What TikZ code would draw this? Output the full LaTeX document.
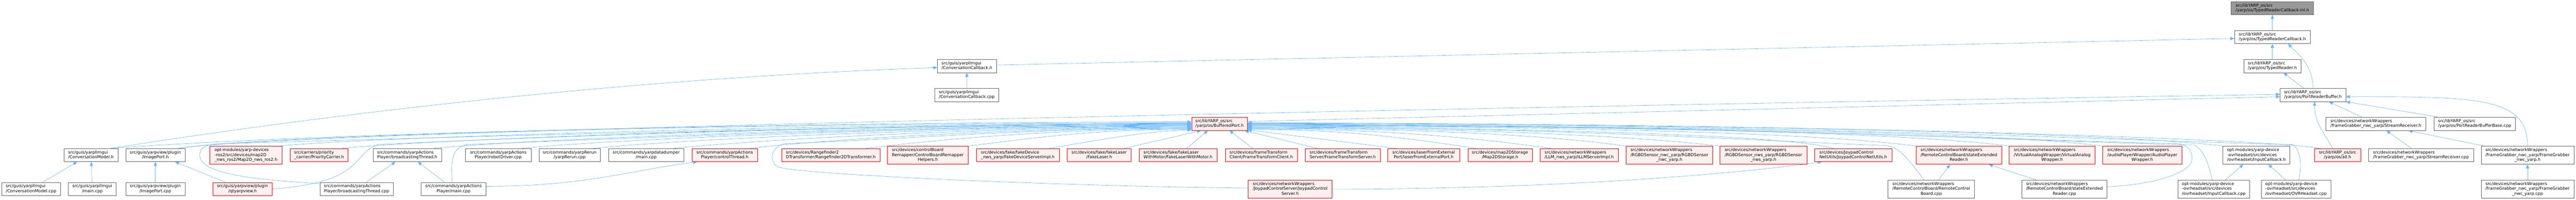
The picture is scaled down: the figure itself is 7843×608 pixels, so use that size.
\documentclass[tikz,border=0pt]{standalone}
\usepackage{fontspec}
\setmainfont{DejaVu Sans}
\usetikzlibrary{arrows.meta}
\pgfdeclarelayer{background}
\pgfsetlayers{background,main}
\definecolor{edgec}{HTML}{63B8FF}
\definecolor{redfill}{HTML}{FFF0F0}
\definecolor{greyb}{HTML}{666666}
\definecolor{rootfill}{HTML}{999999}
\newcommand\lbl[2]{\begin{tabular}{@{}l@{}}#1\\\multicolumn{1}{@{}c@{}}{#2}\end{tabular}}
\newcommand\nodebox[7]{\node[#6, minimum width={(#3-#2)*1pt}, minimum height={(#5-#4)*1pt}] (#1) at ({(#2+#3)/2},{(#4+#5)/2}) {#7};}
\begin{document}
\begin{tikzpicture}[x=1pt,y=-1pt,
  nbase/.style={inner sep=0pt, line width=1pt, font=\fontsize{12.7}{14.8}\selectfont, text=black},
  wn/.style={nbase, draw=greyb, fill=white},
  rn/.style={nbase, draw=red, fill=redfill},
  root/.style={nbase, draw=greyb, fill=rootfill},
  edge/.style={draw=edgec, line width=1pt, -{Triangle[length=12pt,width=10pt]}}]
\useasboundingbox (0,0) rectangle (7843,608);
% ---- upper rows
\nodebox{inl}{6793}{7044}{5}{45}{root}{\lbl{src/libYARP\_os/src}{/yarp/os/TypedReaderCallback-inl.h}}
\nodebox{trc}{6803}{7034}{93}{133}{wn}{\lbl{src/libYARP\_os/src}{/yarp/os/TypedReaderCallback.h}}
\nodebox{ccb}{2854}{3034}{181}{221}{wn}{\lbl{src/guis/yarpllmgui}{/ConversationCallback.h}}
\nodebox{tr}{6832}{7005}{181}{221}{wn}{\lbl{src/libYARP\_os/src}{/yarp/os/TypedReader.h}}
\nodebox{ccc}{2846}{3041}{269}{309}{wn}{\lbl{src/guis/yarpllmgui}{/ConversationCallback.cpp}}
\nodebox{prb}{6942}{7142}{269}{309}{wn}{\lbl{src/libYARP\_os/src}{/yarp/os/PortReaderBuffer.h}}
\nodebox{bp}{3628}{3798}{357}{397}{rn}{\lbl{src/libYARP\_os/src}{/yarp/os/BufferedPort.h}}
\nodebox{sr}{7081}{7386}{357}{397}{wn}{\lbl{src/devices/networkWrappers}{/frameGrabber\_nwc\_yarp/StreamReceiver.h}}
\nodebox{prbb}{7410}{7659}{357}{397}{wn}{\lbl{src/libYARP\_os/src}{/yarp/os/PortReaderBufferBase.cpp}}
% ---- row F
\nodebox{cm}{195}{359}{452}{492}{wn}{\lbl{src/guis/yarpllmgui}{/ConversationModel.h}}
\nodebox{ip}{383}{563}{452}{492}{wn}{\lbl{src/guis/yarpview/plugin}{/ImagePort.h}}
\nodebox{map}{639}{859}{445}{500}{rn}{\lbl{opt-modules/yarp-devices\\-ros2/src/devices/map2D}{\_nws\_ros2/Map2D\_nws\_ros2.h}}
\nodebox{pc}{883}{1060}{452}{492}{rn}{\lbl{src/carriers/priority}{\_carrier/PriorityCarrier.h}}
\nodebox{bth}{1136}{1344}{452}{492}{wn}{\lbl{src/commands/yarpActions}{Player/broadcastingThread.h}}
\nodebox{rd}{1417}{1617}{452}{492}{wn}{\lbl{src/commands/yarpActions}{Player/robotDriver.cpp}}
\nodebox{yr}{1641}{1828}{452}{492}{wn}{\lbl{src/commands/yarpRerun}{/yarpRerun.cpp}}
\nodebox{dd}{1853}{2082}{452}{492}{wn}{\lbl{src/commands/yarpdatadumper}{/main.cpp}}
\nodebox{ct}{2107}{2306}{452}{492}{rn}{\lbl{src/commands/yarpActions}{Player/controlThread.h}}
\nodebox{rf}{2380}{2679}{452}{492}{rn}{\lbl{src/devices/Rangefinder2}{DTransformer/Rangefinder2DTransformer.h}}
\nodebox{cbr}{2702}{2948}{445}{500}{rn}{\lbl{src/devices/controlBoard\\Remapper/ControlBoardRemapper}{Helpers.h}}
\nodebox{fds}{2973}{3225}{452}{492}{rn}{\lbl{src/devices/fake/fakeDevice}{\_nws\_yarp/FakeDeviceServerImpl.h}}
\nodebox{fl}{3249}{3444}{452}{492}{rn}{\lbl{src/devices/fake/fakeLaser}{/FakeLaser.h}}
\nodebox{flm}{3468}{3705}{452}{492}{rn}{\lbl{src/devices/fake/fakeLaser}{WithMotor/FakeLaserWithMotor.h}}
\nodebox{ftc}{3730}{3950}{452}{492}{rn}{\lbl{src/devices/frameTransform}{Client/FrameTransformClient.h}}
\nodebox{fts}{3974}{4202}{452}{492}{rn}{\lbl{src/devices/frameTransform}{Server/FrameTransformServer.h}}
\nodebox{lfe}{4225}{4444}{452}{492}{rn}{\lbl{src/devices/laserFromExternal}{Port/laserFromExternalPort.h}}
\nodebox{m2s}{4469}{4665}{452}{492}{rn}{\lbl{src/devices/map2DStorage}{/Map2DStorage.h}}
\nodebox{illm}{4689}{4927}{452}{492}{rn}{\lbl{src/devices/networkWrappers}{/LLM\_nws\_yarp/ILLMServerImpl.h}}
\nodebox{rgc}{4951}{5214}{445}{500}{rn}{\lbl{src/devices/networkWrappers\\/RGBDSensor\_nwc\_yarp/RGBDSensor}{\_nwc\_yarp.h}}
\nodebox{rgs}{5237}{5501}{445}{500}{rn}{\lbl{src/devices/networkWrappers\\/RGBDSensor\_nws\_yarp/RGBDSensor}{\_nws\_yarp.h}}
\nodebox{jnu}{5525}{5760}{452}{492}{rn}{\lbl{src/devices/JoypadControl}{NetUtils/JoypadControlNetUtils.h}}
\nodebox{ser}{5834}{6094}{445}{500}{rn}{\lbl{src/devices/networkWrappers\\/RemoteControlBoard/stateExtended}{Reader.h}}
\nodebox{vaw}{6117}{6379}{445}{500}{rn}{\lbl{src/devices/networkWrappers\\/VirtualAnalogWrapper/VirtualAnalog}{Wrapper.h}}
\nodebox{apw}{6402}{6643}{445}{500}{rn}{\lbl{src/devices/networkWrappers\\/audioPlayerWrapper/AudioPlayer}{Wrapper.h}}
\nodebox{ich}{6768}{6972}{445}{500}{wn}{\lbl{opt-modules/yarp-device\\-ovrheadset/src/devices}{/ovrheadset/InputCallback.h}}
\nodebox{all}{7047}{7187}{452}{492}{rn}{\lbl{src/libYARP\_os/src}{/yarp/os/all.h}}
\nodebox{srcpp}{7211}{7531}{452}{492}{wn}{\lbl{src/devices/networkWrappers}{/frameGrabber\_nwc\_yarp/StreamReceiver.cpp}}
\nodebox{fgh}{7554}{7837}{445}{500}{wn}{\lbl{src/devices/networkWrappers\\/frameGrabber\_nwc\_yarp/FrameGrabber}{\_nwc\_yarp.h}}
% ---- row G
\nodebox{cmc}{5}{184}{555}{595}{wn}{\lbl{src/guis/yarpllmgui}{/ConversationModel.cpp}}
\nodebox{ym}{208}{354}{555}{595}{wn}{\lbl{src/guis/yarpllmgui}{/main.cpp}}
\nodebox{ipc}{383}{563}{555}{595}{wn}{\lbl{src/guis/yarpview/plugin}{/ImagePort.cpp}}
\nodebox{qv}{648}{829}{555}{595}{rn}{\lbl{src/guis/yarpview/plugin}{/qtyarpview.h}}
\nodebox{btc}{974}{1197}{555}{595}{wn}{\lbl{src/commands/yarpActions}{Player/broadcastingThread.cpp}}
\nodebox{ymain}{1282}{1480}{555}{595}{wn}{\lbl{src/commands/yarpActions}{Player/main.cpp}}
\nodebox{jcs}{3800}{4056}{548}{603}{rn}{\lbl{src/devices/networkWrappers\\/JoypadControlServer/JoypadControl}{Server.h}}
\nodebox{rcb}{5748}{6012}{548}{603}{wn}{\lbl{src/devices/networkWrappers\\/RemoteControlBoard/RemoteControl}{Board.cpp}}
\nodebox{sec}{6156}{6415}{548}{603}{wn}{\lbl{src/devices/networkWrappers\\/RemoteControlBoard/stateExtended}{Reader.cpp}}
\nodebox{icc}{6631}{6849}{548}{603}{wn}{\lbl{opt-modules/yarp-device\\-ovrheadset/src/devices}{/ovrheadset/InputCallback.cpp}}
\nodebox{ovr}{6885}{7096}{548}{603}{wn}{\lbl{opt-modules/yarp-device\\-ovrheadset/src/devices}{/ovrheadset/OVRHeadset.cpp}}
\nodebox{fgc}{7554}{7837}{548}{603}{wn}{\lbl{src/devices/networkWrappers\\/frameGrabber\_nwc\_yarp/FrameGrabber}{\_nwc\_yarp.cpp}}
\begin{pgfonlayer}{background}
\fill[white] (0,0) rectangle (7843,608);
% top part
\draw[edge] (trc) -- (inl);
\draw[edge] (tr) -- (trc);
\draw[edge] ([xshift=-28pt]prb.north) -- ([xshift=34pt]tr.south);
\draw[edge] (prb.north) .. controls +(0,-70) and +(30,30) .. ([xshift=47.5pt]trc.south);
\draw[edge] (ccb.2) -- (trc.182);
\draw[edge] (ccc) -- (ccb);
\draw[edge] ([xshift=60pt]cm.north) .. controls +(700,-110) and +(-900,30) .. (ccb.183);
\draw[edge] (bp.5) -- (prb.183);
\draw[edge] ([xshift=70pt]ip.north) .. controls +(300,-57) and +(-1742,27) .. (prb.179);
% left sources to BufferedPort
\draw[edge] ([xshift=60pt]cm.north) .. controls +(600,-45) and +(-1200,0) .. (bp.176);
\draw[edge] ([xshift=70pt]ip.north) .. controls +(300,-45) and +(-1200,0) .. (bp.178);
\draw[edge] ([xshift=-10pt]map.north east) .. controls +(300,-30) and +(-1000,0) .. (bp.179);
\draw[edge] ([xshift=-20pt]pc.north east) .. controls +(300,-30) and +(-1000,0) .. (bp.180);
\draw[edge] (qv.east) .. controls +(280,-20) and +(-80,30) .. (1150,440) .. controls +(400,-20) and +(-1000,0) .. (bp.181);
\draw[edge] ([yshift=-4pt]btc.north west) .. controls (720,545) and (608,520) .. (608,472) .. controls (608,450) and (625,441) .. (660,438) .. controls +(500,-15) and +(-1000,0) .. (bp.182);
\draw[edge] ([xshift=-24pt]bth.north east) .. controls +(300,-30) and +(-900,0) .. (bp.183);
\draw[edge] ([xshift=29pt]btc.north) -- ([xshift=-36pt]bth.south);
\draw[edge] ([xshift=-27pt]ymain.north) -- ([xshift=32pt]bth.south);
\draw[edge] ([xshift=-4pt]ymain.north) .. controls (1372,490) and (1375,450) .. (1420,440) .. controls +(400,-15) and +(-900,0) .. (bp.184);
\draw[edge] ([yshift=8pt]ymain.east) .. controls +(300,0) and +(-200,25) .. ([xshift=16pt]ct.south west);
\draw[edge] ([xshift=71pt]rd.north) .. controls +(300,-30) and +(-800,0) .. (bp.185);
\draw[edge] ([xshift=70pt]yr.north) .. controls +(300,-30) and +(-700,0) .. (bp.186);
\draw[edge] ([xshift=83pt]dd.north) .. controls +(300,-30) and +(-600,0) .. (bp.187);
\draw[edge] ([xshift=76pt]ct.north) .. controls +(250,-30) and +(-500,0) .. (bp.188);
\draw[edge] ([yshift=3pt]jcs.west) .. controls (3200,566) and (2420,530) .. (2370,508) .. controls (2340,495) and (2345,445) .. (2390,437) .. controls +(400,-15) and +(-500,0) .. (bp.189);
\draw[edge] (jcs.east) .. controls +(700,0) and +(-250,35) .. ([xshift=22pt]jnu.south west);
\draw[edge] ([xshift=106pt]rf.north) .. controls +(250,-30) and +(-400,0) .. (bp.190);
\draw[edge] (cbr.north east) .. controls +(200,-25) and +(-300,0) .. (bp.191);
\draw[edge] ([xshift=96pt]fds.north) .. controls +(150,-25) and +(-150,5) .. (bp.192);
\draw[edge] ([xshift=76pt]fl.north) -- (bp.200);
\draw[edge] ([xshift=26pt]flm.north) -- (bp.210);
\draw[edge] ([xshift=-26pt]ftc.north) -- (bp.326);
\draw[edge] ([xshift=-77pt]fts.north) -- (bp.345);
% right sources to BufferedPort
\draw[edge] ([xshift=-84.5pt]lfe.north) -- (bp.348);
\draw[edge] ([xshift=-73pt]m2s.north) .. controls +(-200,-30) and +(300,0) .. (bp.349);
\draw[edge] ([xshift=-87pt]illm.north) .. controls +(-250,-35) and +(400,0) .. (bp.350);
\draw[edge] (rgc.north west) .. controls +(-250,-35) and +(500,0) .. (bp.351);
\draw[edge] (rgs.north west) .. controls +(-300,-35) and +(600,0) .. (bp.352);
\draw[edge] ([xshift=-60pt]jnu.north) .. controls +(-150,-45) and +(700,0) .. (bp.353);
\draw[edge] ([xshift=-22pt]rcb.north) .. controls (5800,470) and (5780,448) .. (5740,443) .. controls +(-400,-15) and +(900,0) .. (bp.354);
\draw[edge] ([xshift=22pt]rcb.north) -- ([xshift=-27pt]ser.south);
\draw[edge] ([xshift=-86.5pt]sec.north) -- ([xshift=91pt]ser.south);
\draw[edge] (ser.north west) .. controls +(-300,-40) and +(1000,0) .. (bp.355);
\draw[edge] (vaw.north west) .. controls +(-300,-40) and +(1200,0) .. (bp.356);
\draw[edge] (apw.north west) .. controls +(-300,-40) and +(1300,0) .. (bp.357);
\draw[edge] ([yshift=7pt]sec.east) .. controls (6580,560) and (6680,520) .. (6674,478) .. controls (6670,450) and (6655,440) .. (6630,437) .. controls +(-500,-10) and +(1400,0) .. (bp.358);
\draw[edge] ([xshift=-5pt]icc.north) .. controls (6725,500) and (6710,455) .. (6680,441) .. controls +(-500,-10) and +(1500,0) .. (bp.359);
\draw[edge] ([xshift=35pt]icc.north) -- ([xshift=-40pt]ich.south);
\draw[edge] ([xshift=-31.5pt]ovr.north) -- ([xshift=36pt]ich.south);
\draw[edge] ([xshift=8.5pt]ovr.north) .. controls (7008,500) and (7005,455) .. (6980,440) .. controls +(-400,-8) and +(1600,0) .. (bp.1);
\draw[edge] (ich.north west) .. controls +(-300,-40) and +(1400,0) .. (bp.0);
\draw[edge] ([xshift=-55pt]all.north) .. controls +(-150,-30) and +(1600,0) .. (bp.2);
\draw[edge] ([xshift=-15pt]all.north) .. controls +(-35,-60) and +(0,60) .. ([xshift=5pt]prb.south);
% PortReaderBuffer / StreamReceiver group
\draw[edge] ([xshift=-42.5pt]sr.north) -- ([xshift=49pt]prb.south);
\draw[edge] ([xshift=-109.5pt]prbb.north) -- (prb.south east);
\draw[edge] (fgh.north) .. controls +(0,-150) and +(400,0) .. (prb.357);
\draw[edge] ([xshift=-29pt]srcpp.north) -- ([xshift=32.5pt]sr.south);
\draw[edge] ([xshift=11pt]fgh.north west) -- ([xshift=99.5pt]sr.south);
\draw[edge] (fgc) -- (fgh);
% bottom left
\draw[edge] ([xshift=35.5pt]cmc.north) -- ([xshift=-42pt]cm.south);
\draw[edge] ([xshift=-1pt]ym.north) -- ([xshift=1pt]cm.south);
\draw[edge] (ipc) -- (ip);
\draw[edge] ([xshift=-51.5pt]qv.north) -- ([xshift=60pt]ip.south);
\end{pgfonlayer}
\end{tikzpicture}
\end{document}
